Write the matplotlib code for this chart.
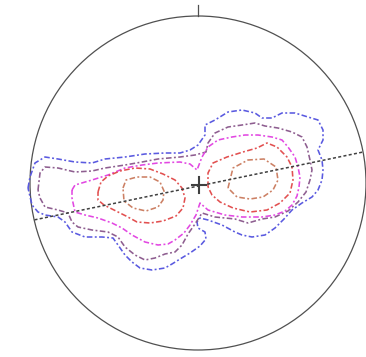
import numpy as np
import matplotlib
matplotlib.use('Agg')
import matplotlib.pyplot as plt
from matplotlib.patches import Ellipse

# contour traces (pixel units, y down)
c1_xy = [(28, 188), (30, 177), (35, 163), (45, 157), (58, 159), (75, 162), (92, 163),
         (105, 159), (125, 157), (145, 154), (165, 153), (180, 153), (190, 150),
         (198, 145), (205, 135), (205, 125), (215, 120), (228, 112), (242, 110),
         (255, 113), (262, 118), (272, 118), (282, 113), (295, 113), (308, 117),
         (318, 120), (323, 130), (323, 140), (318, 150), (322, 160), (323, 170),
         (322, 180), (318, 190), (312, 197), (302, 203), (292, 210), (284, 219),
         (275, 228), (265, 235), (252, 237), (242, 235), (235, 232), (222, 225),
         (208, 220), (200, 218), (197, 222), (198, 228), (205, 232), (206, 239),
         (200, 246), (190, 253), (180, 259), (172, 264), (165, 268), (152, 270),
         (140, 268), (132, 262), (125, 255), (118, 245), (113, 238), (102, 237),
         (85, 237), (72, 232), (65, 222), (58, 217), (45, 215), (38, 212),
         (32, 205), (28, 188)]

c2_xy = [(38, 190), (40, 173), (45, 167), (58, 168), (75, 172), (92, 171), (105, 168),
         (125, 165), (142, 162), (158, 159), (180, 157), (195, 155), (206, 152),
         (208, 143), (215, 133), (228, 127), (242, 125), (255, 123), (265, 126),
         (278, 128), (292, 132), (302, 137), (307, 147), (310, 160), (312, 170),
         (310, 180), (306, 192), (298, 202), (288, 211), (275, 217), (262, 219),
         (255, 221), (248, 223), (235, 219), (215, 217), (202, 213), (195, 224),
         (188, 234), (182, 245), (175, 252), (165, 254), (155, 258), (145, 260),
         (135, 255), (125, 247), (118, 237), (108, 232), (92, 230), (78, 227),
         (72, 222), (68, 213), (58, 210), (45, 207), (40, 198), (38, 190)]

c3_xy = [(72, 190), (75, 185), (92, 180), (108, 175), (125, 168), (142, 165),
         (158, 163), (180, 162), (190, 164), (197, 170), (202, 157), (208, 147),
         (218, 140), (232, 137), (245, 135), (258, 135), (272, 137), (282, 140),
         (288, 147), (295, 157), (298, 167), (300, 177), (299, 187), (297, 196),
         (292, 205), (285, 211), (275, 215), (262, 217), (242, 217), (225, 215),
         (208, 210), (200, 203), (196, 215), (190, 225), (184, 233), (175, 240),
         (168, 244), (158, 245), (145, 242), (132, 235), (122, 228), (112, 223),
         (98, 218), (85, 215), (75, 212), (72, 198), (72, 190)]

c4a_xy = [(98, 192), (101, 182), (108, 176), (120, 171), (135, 168), (150, 169),
          (163, 174), (175, 180), (182, 188), (185, 198), (183, 208), (176, 216),
          (163, 221), (150, 223), (137, 222), (126, 216), (114, 210), (104, 205),
          (98, 200), (98, 192)]
c4b_xy = [(208, 187), (208, 173), (213, 163), (227, 157), (243, 152), (257, 148),
          (267, 143), (277, 147), (287, 157), (292, 167), (293, 180), (290, 193),
          (280, 203), (267, 210), (250, 212), (233, 208), (220, 202), (212, 195),
          (208, 187)]

c5a_xy = [(123, 188), (126, 180), (137, 177), (150, 177), (160, 182), (164, 191),
          (163, 200), (158, 207), (146, 211), (133, 208), (124, 201), (123, 188)]
c5b_xy = [(228, 188), (233, 168), (248, 160), (264, 159), (276, 167), (278, 180),
          (273, 190), (263, 197), (250, 199), (237, 197), (228, 188)]

contours = [
    ([c1_xy], '#5a5ae0'),
    ([c2_xy], '#8e5e90'),
    ([c3_xy], '#e248e2'),
    ([c4a_xy, c4b_xy], '#e25050'),
    ([c5a_xy, c5b_xy], '#cc8064'),
]

# stereonet frame
CX, CY, R = 198, 183, 167
trace_deg = 11.7

fig = plt.figure(figsize=(3.66, 3.57), dpi=100)
ax = fig.add_axes([0, 0, 1, 1])
ax.set_xlim(0, 366)
ax.set_ylim(357, 0)
ax.axis('off')

ax.add_patch(Ellipse((CX, CY), 2 * R + 2, 2 * R, fill=False, ec='#505050', lw=0.9))
ax.plot([CX, CX], [CY - R - 11, CY - R], color='#505050', lw=0.9)

for parts, col in contours:
    for xy in parts:
        xy = np.array(xy)
        ax.plot(xy[:, 0], xy[:, 1], color=col, lw=1.15,
                ls=(0, (3.5, 1.5, 1.2, 1.5)))

a = np.deg2rad(trace_deg)
ax.plot([CX - R * np.cos(a), CX + (R + 1) * np.cos(a)],
        [CY + 3 + R * np.sin(a), CY + 3 - R * np.sin(a)],
        color='#404040', lw=1.1, ls=(0, (2, 1.5)))

ax.plot([192, 206], [185, 185], color='#404040', lw=1.5)
ax.plot([199, 199], [177, 193], color='#404040', lw=1.5)

plt.savefig('out.png', dpi=100)
plt.close()
